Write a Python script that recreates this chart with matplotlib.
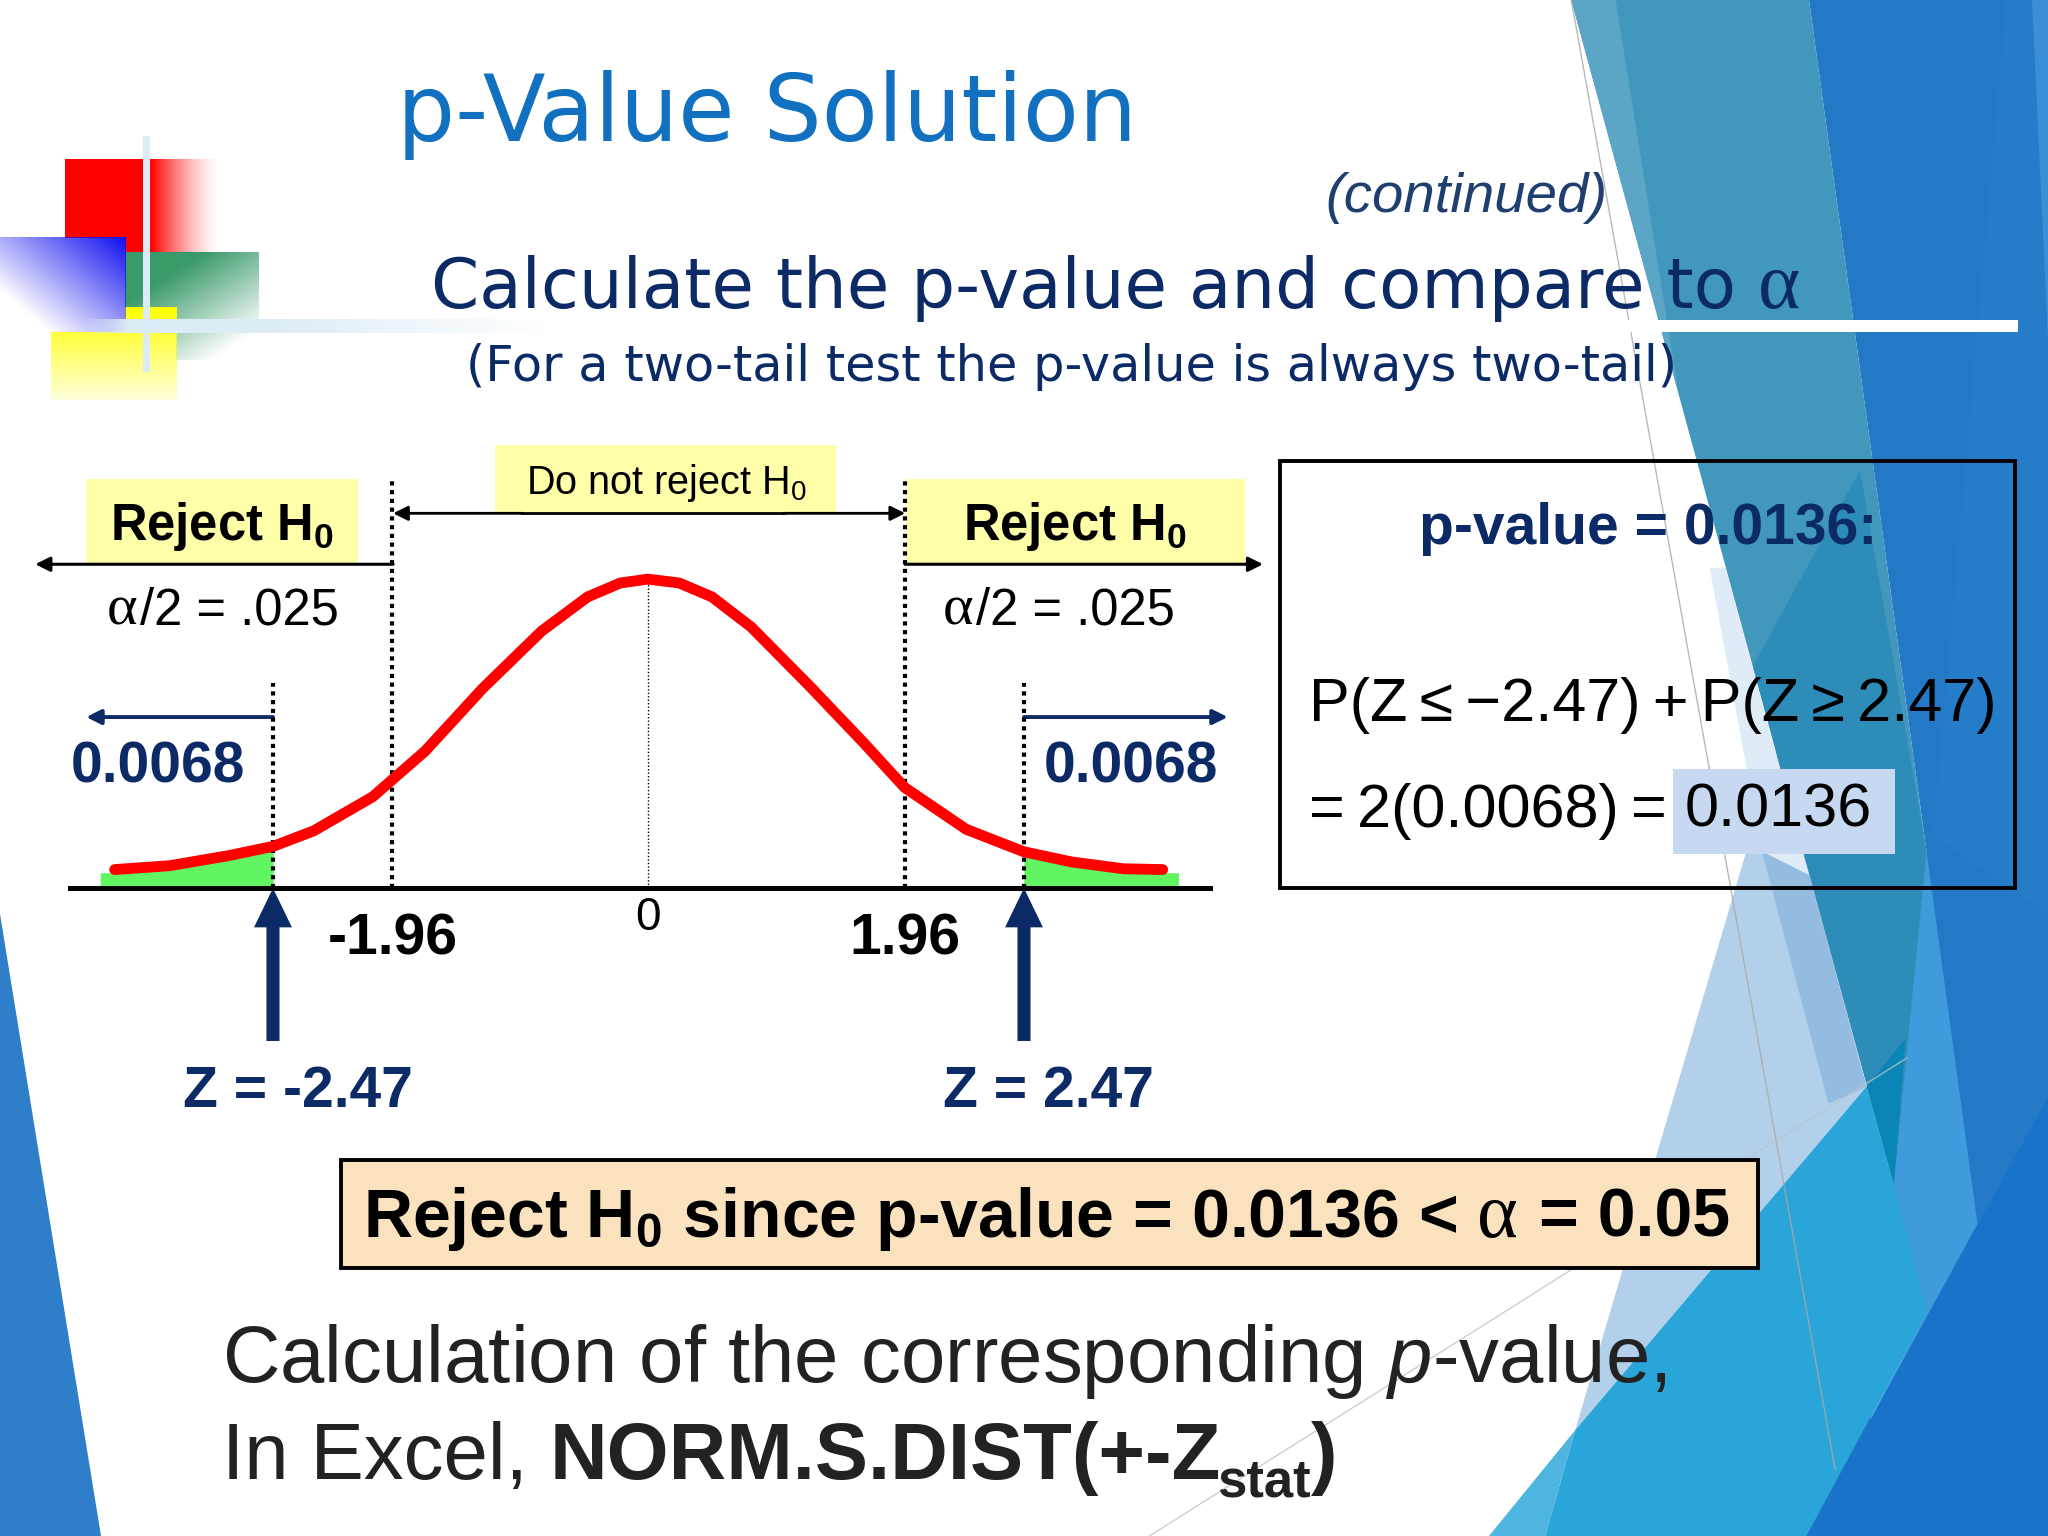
import numpy as np
import matplotlib
matplotlib.use("Agg")
import matplotlib.pyplot as plt
from matplotlib.patches import Polygon, Rectangle

plt.rcParams['font.family'] = ['Liberation Sans', 'DejaVu Sans']
plt.rcParams['mathtext.fontset'] = 'custom'
plt.rcParams['mathtext.rm'] = 'Liberation Sans'
plt.rcParams['mathtext.it'] = 'Liberation Sans:italic'
plt.rcParams['mathtext.bf'] = 'Liberation Sans:bold'

# curve, x in drawn units (tails are stretched on the slide)
curve_x = [-4.07, -3.65, -3.20, -2.86, -2.55, -2.10, -1.70, -1.26, -0.81, -0.46, -0.21, 0.0,
           0.24, 0.49, 0.79, 1.24, 1.64, 1.96, 2.43, 2.87, 3.23, 3.63, 3.93]
curve_y = [0.024, 0.029, 0.042, 0.054, 0.074, 0.118, 0.177, 0.258, 0.332, 0.376, 0.394, 0.399,
           0.394, 0.376, 0.337, 0.260, 0.189, 0.130, 0.076, 0.047, 0.034, 0.025, 0.024]
tail_left_x = [-4.18, -4.07, -3.65, -3.20, -2.86]
tail_left_y = [0.020, 0.020, 0.026, 0.038, 0.050]
tail_right_x = [2.87, 3.23, 3.63, 3.93, 4.05]
tail_right_y = [0.043, 0.030, 0.021, 0.020, 0.020]

crit_pos = [-1.95, 1.96]
stat_pos = [-2.86, 2.87]
crit_height = 0.531
stat_height = 0.265
peak_height = 0.40

NAVY = '#0b2a66'
THIN = '\u2009'

fig = plt.figure(figsize=(20.48, 15.36), dpi=100)

# slide layer, coordinates are slide units (1568 x 1176)
ax = fig.add_axes([0, 0, 1, 1])
ax.set_xlim(0, 1568)
ax.set_ylim(1176, 0)
ax.axis('off')


def poly(pts, color, z=1):
    ax.add_patch(Polygon(pts, closed=True, fc=color, ec='none', zorder=z))


# background shapes
poly([(1385, 0), (1568, 0), (1568, 1176), (1380, 1176), (1450, 907), (1475, 652)], '#2379c6')
poly([(1536, 0), (1568, 0), (1568, 700), (1480, 640)], '#257dc9')
poly([(1556, 0), (1568, 0), (1568, 260)], '#3a8fd6')
poly([(1383, 1176), (1568, 840), (1568, 1176)], '#1873c9')
poly([(1475, 652), (1514, 937), (1432, 1087), (1450, 907)], '#3f9bdc')
poly([(1450, 907), (1475, 1005), (1432, 1087)], '#4ea7ea')
poly([(1206, 1095), (1360, 574), (1429, 832)], '#b3d0ea')
poly([(1309, 435), (1321, 435), (1385, 670), (1349, 652)], '#dfebf6')
poly([(1349, 652), (1385, 670), (1429, 832), (1400, 845)], '#94bce0')
poly([(1203, 0), (1385, 0), (1475, 652), (1450, 907)], '#4297bd')
poly([(1203, 0), (1237, 0), (1285, 300)], '#5ba5c6')
poly([(1424, 360), (1475, 652), (1450, 907), (1342, 510)], '#2e8cb8')
poly([(1206, 1095), (1429, 832), (1450, 907), (1475, 1005), (1383, 1176), (1183, 1176)], '#2aa5da')
poly([(1140, 1176), (1206, 1095), (1183, 1176)], '#4db5e0')
poly([(1429, 832), (1459, 795), (1450, 907)], '#0a86b6')
poly([(0, 700), (0, 1176), (77, 1176)], '#2e7ec9')
ax.plot([1203, 1405], [0, 1125], color='#a8a8a8', lw=1.0, alpha=0.8, zorder=2)
ax.plot([880, 1460], [1176, 810], color='#b8c4cc', lw=1.0, alpha=0.8, zorder=2)


def gradient(extent, color, alpha_grid, z=3):
    rgba = np.zeros(alpha_grid.shape + (4,))
    rgba[..., :3] = matplotlib.colors.to_rgb(color)
    rgba[..., 3] = alpha_grid
    ax.imshow(rgba, extent=extent, origin='upper', aspect='auto', zorder=z, interpolation='bilinear')


# logo squares
xx, yy = np.meshgrid(np.linspace(0, 1, 64), np.linspace(0, 1, 64))
gradient((50, 170, 195, 122), '#ff0000', np.clip((1 - xx) / 0.45, 0, 1) ** 1.5, z=3)
gradient((96, 198, 276, 194), '#3a9a6a', np.clip(1.45 - 0.75 * xx - 0.95 * yy, 0, 1), z=4)
ax.add_patch(Rectangle((39, 235), 96, 71, fc='white', ec='none', zorder=5))
gradient((39, 135, 306, 235), '#ffff00', np.clip(1.0 - 0.85 * yy, 0, 1), z=5.5)
ax.add_patch(Rectangle((0, 182), 96, 72, fc='white', ec='none', zorder=5.8))
gradient((0, 96, 254, 182), '#1010f0', np.clip(0.35 + 0.65 * xx - 0.6 * yy, 0, 1), z=6)
gradient((60, 420, 255, 245), '#dcecf6', np.clip(np.minimum(xx / 0.1, (1 - xx) / 0.6), 0, 1), z=7)
ax.add_patch(Rectangle((109.5, 104), 5.5, 181, fc='#dcecf6', ec='none', zorder=7))
ax.add_patch(Rectangle((420, 245), 1125, 9, fc='white', ec='none', zorder=7))

# headings
ax.text(304, 108, 'p-Value Solution', family='DejaVu Sans', fontsize=66, color='#1170bf', zorder=10)
ax.text(1015, 162, '(continued)', style='italic', fontsize=40.6, color='#1f3f6f', zorder=10)
ax.text(330, 236, 'Calculate the p-value and compare to', family='DejaVu Sans', fontsize=49.8, color=NAVY, zorder=10)
ax.text(1346, 236, 'α', family='Liberation Serif', fontsize=58, color=NAVY, zorder=10)
ax.text(357, 292, '(For a two-tail test the p-value is always two-tail)', family='DejaVu Sans', fontsize=35.6,
        color=NAVY, zorder=10)

# labelled bands
for x0, y0, x1, y1 in [(66, 367, 274, 431), (694, 367, 953, 431), (379, 341, 640, 392)]:
    ax.add_patch(Rectangle((x0, y0), x1 - x0, y1 - y0, fc='#ffffaa', ec='none', zorder=8))
ax.text(170, 403, r'Reject H$_{\mathbf{0}}$', fontsize=36.5, fontweight='bold', ha='center', va='center', zorder=10)
ax.text(823, 403, r'Reject H$_{\mathbf{0}}$', fontsize=36.5, fontweight='bold', ha='center', va='center', zorder=10)
ax.text(510, 370, r'Do not reject H$_{\mathrm{0}}$', fontsize=28.5, ha='center', va='center', zorder=10)
for x in (82, 722):
    ax.text(x, 478, 'α', family='Liberation Serif', fontsize=42, zorder=10)
    ax.text(x + 25, 478, '/2 = .025', fontsize=36.5, zorder=10)


def arrow(x0, x1, y, color, lw):
    ax.annotate('', xy=(x1, y), xytext=(x0, y), zorder=9,
                arrowprops=dict(arrowstyle='-|>', color=color, lw=lw, mutation_scale=22,
                                shrinkA=0, shrinkB=0))


arrow(301, 27, 432, 'black', 2.2)
arrow(693, 967, 432, 'black', 2.2)
arrow(400, 301, 393, 'black', 2.0)
arrow(600, 693, 393, 'black', 2.0)
ax.plot([400, 600], [393, 393], color='black', lw=2.0, zorder=9)
arrow(209, 66, 549, NAVY, 2.8)
arrow(784, 940, 549, NAVY, 2.8)

ax.text(121, 588, '0.0068', fontsize=41, fontweight='bold', color=NAVY, ha='center', va='center', zorder=10)
ax.text(866, 588, '0.0068', fontsize=41, fontweight='bold', color=NAVY, ha='center', va='center', zorder=10)

# axis labels under the curve
ax.text(301, 719, '-1.96', fontsize=41, fontweight='bold', ha='center', va='center', zorder=10)
ax.text(693, 719, '1.96', fontsize=41, fontweight='bold', ha='center', va='center', zorder=10)
ax.text(496, 703, '0', fontsize=33, ha='center', va='center', zorder=10)
for x in (209, 784):
    ax.arrow(x, 797, 0, -117, width=10, head_width=29, head_length=30, length_includes_head=True,
             fc=NAVY, ec='none', zorder=9)
ax.text(228, 836, 'Z = -2.47', fontsize=41, fontweight='bold', color=NAVY, ha='center', va='center', zorder=10)
ax.text(803, 836, 'Z = 2.47', fontsize=41, fontweight='bold', color=NAVY, ha='center', va='center', zorder=10)

# p-value box
ax.add_patch(Rectangle((980, 353), 563, 327, fc='none', ec='black', lw=2.8, zorder=8))
ax.add_patch(Rectangle((1281, 589), 170, 65, fc='#c6d9f1', ec='none', zorder=8))
ax.text(1262, 405, 'p-value = 0.0136:', fontsize=41, fontweight='bold', color=NAVY, ha='center', va='center', zorder=10)
ax.text(1002, 540, f'P(Z{THIN}≤{THIN}−2.47){THIN}+{THIN}P(Z{THIN}≥{THIN}2.47)', fontsize=44, va='center', zorder=10)
ax.text(1002, 621, f'={THIN}2(0.0068){THIN}=', fontsize=44, va='center', zorder=10)
ax.text(1290, 621, '0.0136', fontsize=44, va='center', zorder=10)

# conclusion box
ax.add_patch(Rectangle((261, 888), 1085, 83, fc='#fbe2bf', ec='black', lw=2.8, zorder=8))
ax.text(278, 947, r'Reject H$_{\mathbf{0}}$ since p-value = 0.0136 <', fontsize=49, fontweight='bold', zorder=10)
ax.text(1131, 947, 'α', family='Liberation Serif', fontsize=56, zorder=10)
ax.text(1178, 947, '= 0.05', fontsize=49, fontweight='bold', zorder=10)

# bottom note
ax.text(170, 1058, r'Calculation of the corresponding $\mathit{p}$-value,', fontsize=57.4, color='#222222', zorder=10)
ax.text(170, 1132, 'In Excel, ', fontsize=57.4, color='#222222', zorder=10)
ax.text(421, 1132, 'NORM.S.DIST(+-Z', fontsize=57.4, fontweight='bold', color='#222222', zorder=10)
ax.text(932, 1146, 'stat', fontsize=38, fontweight='bold', color='#222222', zorder=10)
ax.text(1004, 1132, ')', fontsize=57.4, fontweight='bold', color='#222222', zorder=10)

# chart layer, same frame, x in drawn units and y in density
cx = fig.add_axes([0, 0, 1, 1], facecolor='none')
cx.set_xlim(-496 / 100.3, (1568 - 496) / 100.3)
cx.set_ylim((680 - 1176) / 593, 680 / 593)
cx.axis('off')
cx.fill_between(tail_left_x, tail_left_y, 0, color='#62f562', lw=0, zorder=2)
cx.fill_between(tail_right_x, tail_right_y, 0, color='#62f562', lw=0, zorder=2)
for x in crit_pos:
    cx.plot([x, x], [0, crit_height], color='black', lw=3, ls=(0, (1, 1.1)), zorder=3)
for x in stat_pos:
    cx.plot([x, x], [0, stat_height], color='black', lw=3, ls=(0, (1, 1.1)), zorder=3)
cx.plot([0, 0], [0, peak_height], color='black', lw=1, ls=(0, (1, 1.5)), zorder=3)
cx.plot(curve_x, curve_y, color='#ff0000', lw=7.8, solid_capstyle='round', solid_joinstyle='round', zorder=4)
cx.plot([-4.41, 4.29], [0, 0], color='black', lw=3.6, zorder=5)

fig.savefig('out.png', dpi=100)
